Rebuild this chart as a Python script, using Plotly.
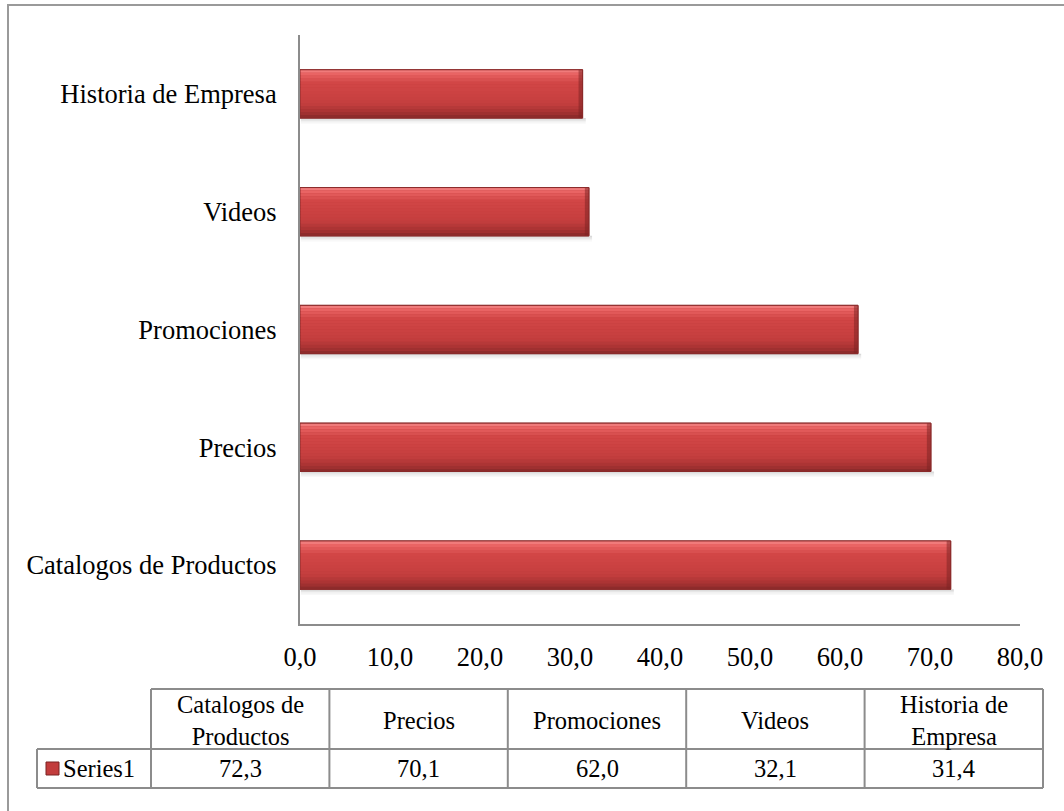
import plotly.graph_objects as go

# ---- data ----
categories = ["Catalogos de Productos", "Precios", "Promociones", "Videos", "Historia de Empresa"]
table_headers = ["Catalogos de<br>Productos", "Precios", "Promociones", "Videos", "Historia de<br>Empresa"]
values = [72.3, 70.1, 62.0, 32.1, 31.4]
series_name = "Series1"
x_tick_values = [0, 10, 20, 30, 40, 50, 60, 70, 80]

# ---- geometry (pixels) ----
W, H = 1064, 811
L, R, T, B = 300, 44, 35, 187
PW, PH = W - L - R, H - T - B
FONT = "Liberation Serif"
AXIS_FS = 26.5
TABLE_FS = 24.5
GRID = "#8c8c8c"
BAR_W = 0.41


def px(x):
    return (x - L) / PW


def py(y):
    return (H - B - y) / PH


def fmt(v):
    return f"{v:.1f}".replace(".", ",")


fig = go.Figure()
fig.add_trace(go.Bar(
    x=values, y=categories, orientation="h", width=BAR_W,
    marker=dict(color="#c23c3c", line=dict(color="#862828", width=1)),
    showlegend=False, hoverinfo="x+y",
))

shapes = []

# soft drop shadow and bevelled gradient for each bar
grad = [(0.00, (244, 134, 134)), (0.10, (232, 98, 98)), (0.28, (210, 70, 70)),
        (0.70, (196, 62, 62)), (0.88, (166, 50, 50)), (1.00, (134, 40, 40))]


def lerp_color(t):
    for (t0, c0), (t1, c1) in zip(grad[:-1], grad[1:]):
        if t0 <= t <= t1:
            f = (t - t0) / (t1 - t0)
            return "rgb(%d,%d,%d)" % tuple(round(a + (b - a) * f) for a, b in zip(c0, c1))
    return "rgb(%d,%d,%d)" % grad[-1][1]


N = 16
for i, v in enumerate(values):
    top, bot = i + BAR_W / 2, i - BAR_W / 2
    for k, op in enumerate([0.22, 0.14, 0.08, 0.04]):
        shapes.append(dict(type="rect", xref="x", yref="y", layer="below",
                           x0=0.1, x1=v + 0.35, y0=bot - 0.012 * (k + 1), y1=bot - 0.012 * k,
                           fillcolor="#505050", opacity=op, line=dict(width=0)))
    h = (top - bot) / N
    for s in range(N):
        t = (s + 0.5) / N
        shapes.append(dict(type="rect", xref="x", yref="y", layer="above",
                           x0=0, x1=v, y0=top - (s + 1) * h, y1=top - s * h,
                           fillcolor=lerp_color(t), line=dict(width=0)))
    # darker bevelled end on the right
    shapes.append(dict(type="rect", xref="x", yref="y", layer="above",
                       x0=v - 0.45, x1=v, y0=bot, y1=top,
                       fillcolor="#7a2222", opacity=0.5, line=dict(width=0)))
    shapes.append(dict(type="rect", xref="x", yref="y", layer="above",
                       x0=0, x1=v, y0=bot, y1=top,
                       fillcolor="rgba(0,0,0,0)", line=dict(color="#8a2a2a", width=1)))

# outer chart frame (left and top edges; continues off-canvas)
shapes.append(dict(type="rect", xref="paper", yref="paper",
                   x0=px(8), x1=px(1080), y0=py(830), y1=py(5),
                   line=dict(color="#9a9a9a", width=2), fillcolor="rgba(0,0,0,0)"))

# data table under the axis
col_left, first_col, table_right = 37, 151, 1043
row_top, row_mid, row_bot = 689, 749, 788
col_w = (table_right - first_col) / len(categories)
col_edges = [first_col + k * col_w for k in range(len(categories) + 1)]


def hline(x0, x1, y):
    shapes.append(dict(type="line", xref="paper", yref="paper", x0=px(x0), x1=px(x1),
                       y0=py(y), y1=py(y), line=dict(color=GRID, width=2)))


def vline(x, y0, y1):
    shapes.append(dict(type="line", xref="paper", yref="paper", x0=px(x), x1=px(x),
                       y0=py(y0), y1=py(y1), line=dict(color=GRID, width=2)))


hline(first_col, table_right, row_top)
hline(col_left, table_right, row_mid)
hline(col_left, table_right, row_bot)
vline(col_left, row_mid, row_bot)
for e in col_edges:
    vline(e, row_top, row_bot)

# legend key in the table
shapes.append(dict(type="rect", xref="paper", yref="paper",
                   x0=px(46), x1=px(59), y0=py(775), y1=py(762),
                   fillcolor="#c23c3c", line=dict(color="#7a2222", width=1)))

tfont = dict(family=FONT, size=TABLE_FS, color="#000")
annotations = []
for k, (hdr, v) in enumerate(zip(table_headers, values)):
    cx = (col_edges[k] + col_edges[k + 1]) / 2
    annotations.append(dict(xref="paper", yref="paper", x=px(cx), y=py((row_top + row_mid) / 2 + 1),
                            text=hdr, showarrow=False, xanchor="center", yanchor="middle",
                            font=tfont))
    annotations.append(dict(xref="paper", yref="paper", x=px(cx), y=py((row_mid + row_bot) / 2),
                            text=fmt(v), showarrow=False, xanchor="center", yanchor="middle",
                            font=tfont))
annotations.append(dict(xref="paper", yref="paper", x=px(61), y=py((row_mid + row_bot) / 2),
                        text=series_name, showarrow=False, xanchor="left", yanchor="middle",
                        font=tfont))

fig.update_layout(
    width=W, height=H,
    margin=dict(l=L, r=R, t=T, b=B, pad=0),
    paper_bgcolor="white", plot_bgcolor="white",
    separators=",.",
    font=dict(family=FONT, size=AXIS_FS, color="#000"),
    showlegend=False,
    shapes=shapes, annotations=annotations,
    xaxis=dict(range=[0, 80], tickvals=x_tick_values, tickformat=".1f",
               tickfont=dict(family=FONT, size=AXIS_FS, color="#000"),
               showgrid=False, zeroline=False, showline=True, linecolor=GRID, linewidth=2,
               ticks="", ticklabelstandoff=8, fixedrange=True),
    yaxis=dict(categoryorder="array", categoryarray=categories,
               tickfont=dict(family=FONT, size=AXIS_FS, color="#000"),
               showgrid=False, zeroline=False, showline=True, linecolor=GRID, linewidth=2,
               ticks="", ticklabelstandoff=16, range=[-0.5, 4.5], fixedrange=True),
)

fig.write_html("out.html")
